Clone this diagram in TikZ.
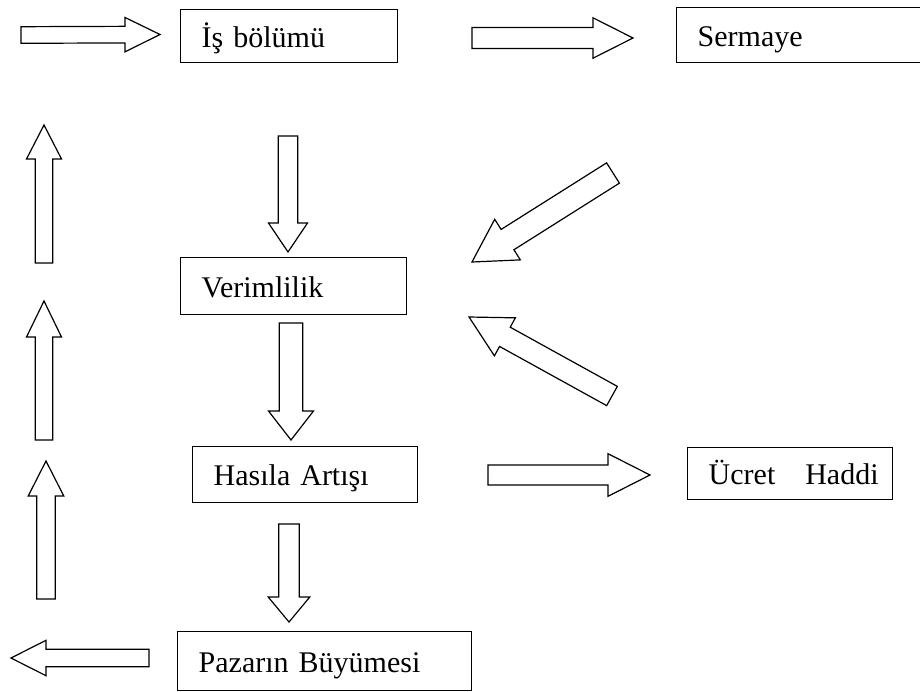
\documentclass[tikz,border=0pt]{standalone}
\usepackage{fontspec}
\setmainfont{Liberation Serif}
\usetikzlibrary{calc}

\begin{document}
\begin{tikzpicture}[
        x = 1pt, y = -1pt,
        box/.style = {draw, line width=1.4pt, anchor=north west,
                      inner xsep=21pt, inner ysep=0pt, align=left,
                      text height=28pt, text depth=6pt,
                      font=\fontsize{30}{36}\selectfont},
        blk/.style args = {#1/#2/#3}{draw, line width=1.2pt, fill=white,
            to path={
                ($(\tikztostart)!#1!90:(\tikztotarget)$)
                -- ($($(\tikztotarget)!#3!(\tikztostart)$)!#1!90:(\tikztotarget)$)
                -- ($($(\tikztotarget)!#3!(\tikztostart)$)!#2!90:(\tikztotarget)$)
                -- (\tikztotarget)
                -- ($($(\tikztotarget)!#3!(\tikztostart)$)!#2!-90:(\tikztotarget)$)
                -- ($($(\tikztotarget)!#3!(\tikztostart)$)!#1!-90:(\tikztotarget)$)
                -- ($(\tikztostart)!#1!-90:(\tikztotarget)$)
                -- cycle}}
    ]
    \useasboundingbox (0,0) rectangle (920,691);
    % boxes
    \node (isb) [box, text width=175pt, minimum height=53pt] at (180,9)   {İş bölümü};
    \node (srm) [box, text width=208pt, minimum height=55pt] at (676,7)   {Sermaye};
    \node (vrm) [box, text width=184pt, minimum height=57pt] at (180,257) {Verimlilik};
    \node (has) [box, text width=183pt, minimum height=56pt] at (192,446) {Hasıla Artışı};
    \node (ucr) [box, text width=163pt, minimum height=52pt] at (687,447) {Ücret~~~Haddi};
    \node (pzr) [box, text width=252pt, minimum height=59pt] at (177,631) {Pazarın Büyümesi};
    % arrow ends
    \coordinate (in1)  at (21,35);   \coordinate (in2)  at (160,34.5);
    \coordinate (isb1) at (472,38);  \coordinate (isb2) at (633,38);
    \coordinate (isb3) at (288,136); \coordinate (isb4) at (288,252);
    \coordinate (srm1) at (613,173); \coordinate (srm2) at (472,262);
    \coordinate (vrm1) at (291,323); \coordinate (vrm2) at (291,440);
    \coordinate (fb1)  at (612,396); \coordinate (fb2)  at (469,317);
    \coordinate (has1) at (289,524); \coordinate (has2) at (289,622);
    \coordinate (has3) at (488,475); \coordinate (has4) at (650,475);
    \coordinate (pzr1) at (149,658); \coordinate (pzr2) at (11,658);
    \coordinate (up1)  at (46,599);  \coordinate (up2)  at (46,461);
    \coordinate (up3)  at (44,440);  \coordinate (up4)  at (44,301);
    \coordinate (up5)  at (44,263);  \coordinate (up6)  at (44,125);
    % block arrows
    \draw[blk=8.3pt/17.2pt/35pt]   (in1)  to (in2);
    \draw[blk=10.5pt/20.2pt/40pt]  (isb1) to (isb2);
    \draw[blk=9.7pt/19.5pt/29pt]   (isb3) to (isb4);
    \draw[blk=12pt/24pt/42pt]      (srm1) to (srm2);
    \draw[blk=11.7pt/22.5pt/29pt]  (vrm1) to (vrm2);
    \draw[blk=11pt/21.7pt/41pt]    (fb1)  to (fb2);
    \draw[blk=10.3pt/20.8pt/25pt]  (has1) to (has2);
    \draw[blk=10pt/21.3pt/42pt]    (has3) to (has4);
    \draw[blk=8.7pt/17.7pt/35pt]   (pzr1) to (pzr2);
    \draw[blk=9.2pt/17.8pt/35pt]   (up1)  to (up2);
    \draw[blk=8.8pt/17.5pt/36pt]   (up3)  to (up4);
    \draw[blk=8.8pt/17.5pt/34pt]   (up5)  to (up6);
\end{tikzpicture}
\end{document}
